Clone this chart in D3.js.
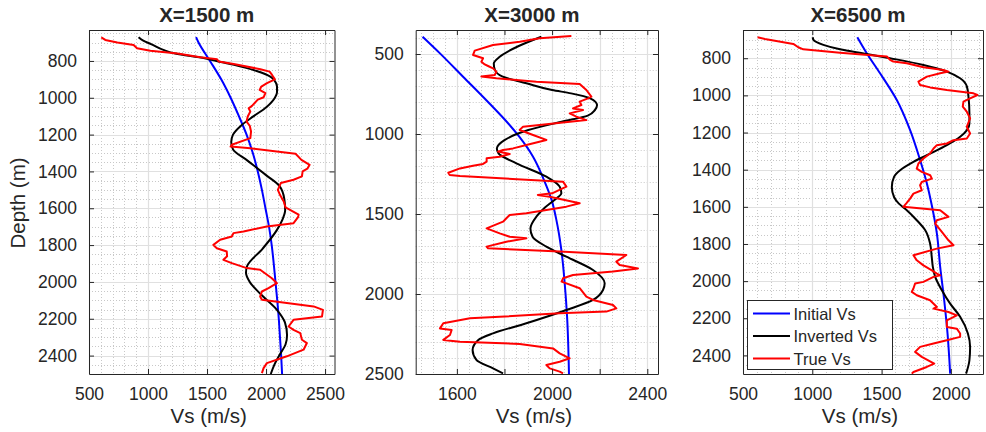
<!DOCTYPE html>
<html><head><meta charset="utf-8">
<script src="https://cdn.jsdelivr.net/npm/d3@7"></script>
<style>
body{margin:0;background:#fff}
svg{display:block}
text{font-family:"Liberation Sans",Arial,Helvetica,sans-serif;fill:#262626}
</style>
</head><body><svg id="c" width="986" height="432"></svg>
<script>
// ---------------- DATA ----------------
const titles = ["X=1500 m", "X=3000 m", "X=6500 m"];
const seriesNames = ["Initial Vs", "Inverted Vs", "True Vs"];
const xLabel = "Vs (m/s)";
const yLabel = "Depth (m)";

const xTicksA = [500, 1000, 1500, 2000, 2500];
const xTicksB = [1600, 1800, 2000, 2200, 2400];
const xTickLabelsB = ["1600", "", "2000", "", "2400"];
const xTicksC = [500, 1000, 1500, 2000];
const yTicksA = [800, 1000, 1200, 1400, 1600, 1800, 2000, 2200, 2400];
const yTicksB = [500, 1000, 1500, 2000, 2500];
const yTicksC = [800, 1000, 1200, 1400, 1600, 1800, 2000, 2200, 2400];

// [depth (m), Vs (m/s)]
const initial1500 = [[671,1407],[700,1428],[800,1525],[900,1620],[1000,1700],[1100,1770],[1200,1835],[1300,1888],[1400,1930],[1500,1965],[1600,1995],[1700,2025],[1800,2048],[1900,2065],[2000,2080],[2100,2095],[2200,2108],[2300,2118],[2400,2128],[2500,2136]];
const inverted1500 = [[671,920],[690,960],[710,1030],[740,1130],[760,1230],[785,1480],[800,1580],[820,1720],[855,1920],[885,2036],[910,2075],[940,2093],[970,2093],[1000,2075],[1050,2005],[1100,1895],[1150,1790],[1200,1720],[1240,1705],[1280,1720],[1340,1840],[1420,2000],[1480,2115],[1550,2155],[1610,2162],[1660,2140],[1720,2090],[1820,1970],[1915,1839],[1950,1830],[2000,1862],[2070,1960],[2150,2090],[2220,2160],[2290,2178],[2340,2165],[2390,2120],[2450,2070],[2500,2040]];
const true1500 = [[672,604],[686,638],[700,740],[713,878],[731,907],[745,1020],[760,1250],[780,1443],[791,1585],[803,1599],[817,1726],[845,1952],[858,2030],[876,2051],[900,2075],[921,2008],[939,1960],[957,1946],[975,1994],[997,1980],[1010,1930],[1044,1881],[1057,1853],[1075,1867],[1102,1845],[1129,1835],[1152,1862],[1183,1873],[1219,1867],[1255,1710],[1265,1700],[1274,1867],[1304,2250],[1337,2300],[1364,2369],[1385,2350],[1400,2310],[1427,2304],[1445,2233],[1463,2125],[1500,2100],[1530,2120],[1563,2150],[1595,2165],[1635,2276],[1650,2270],[1681,2233],[1699,2007],[1726,1809],[1735,1724],[1753,1710],[1771,1611],[1799,1554],[1817,1583],[1835,1667],[1861,1670],[1880,1639],[1898,1710],[1925,1837],[1934,1950],[1980,2049],[2007,2092],[2034,2021],[2052,1965],[2079,1950],[2097,1965],[2133,2403],[2152,2482],[2188,2474],[2206,2233],[2242,2191],[2260,2233],[2278,2290],[2314,2304],[2332,2346],[2368,2318],[2404,2176],[2441,2007],[2468,1979],[2495,1965]];

const initial3000 = [[392,1456],[496,1529],[642,1626],[808,1736],[933,1815],[1017,1862],[1142,1920],[1288,1966],[1412,1998],[1537,2018],[1725,2039],[1933,2053],[2142,2063],[2500,2071]];
const inverted3000 = [[392,1955],[450,1860],[517,1780],[560,1755],[600,1760],[640,1790],[683,1892],[725,2000],[746,2080],[777,2160],[819,2189],[850,2180],[885,2150],[923,2040],[975,1900],[1038,1800],[1090,1768],[1121,1775],[1183,1850],[1267,1976],[1329,2032],[1371,2039],[1412,2010],[1460,1970],[1517,1934],[1590,1909],[1642,1918],[1704,1976],[1767,2060],[1850,2172],[1933,2221],[1975,2214],[2037,2172],[2100,2060],[2183,1892],[2246,1752],[2287,1690],[2350,1666],[2412,1682],[2465,1752],[2496,1794]];
const true3000 = [[388,2081],[402,1948],[423,1864],[444,1752],[479,1675],[506,1668],[527,1710],[548,1703],[565,1717],[575,1731],[590,1752],[610,1766],[631,1759],[641,1703],[652,1766],[673,1934],[687,2116],[725,2144],[767,2165],[777,2151],[798,2116],[819,2123],[840,2088],[850,2130],[871,2074],[892,2102],[913,2144],[954,1878],[975,1864],[1006,1920],[1037,1976],[1069,1892],[1090,1836],[1100,1794],[1110,1773],[1125,1822],[1142,1780],[1152,1725],[1173,1725],[1187,1710],[1198,1668],[1215,1613],[1242,1564],[1256,1570],[1263,1613],[1298,2046],[1329,2060],[1371,2000],[1381,1940],[1392,1990],[1433,2116],[1454,2060],[1496,1892],[1506,1822],[1527,1808],[1548,1794],[1590,1725],[1621,1780],[1642,1822],[1652,1892],[1673,1808],[1704,1725],[1714,1731],[1735,2032],[1756,2312],[1798,2270],[1819,2284],[1840,2361],[1860,2256],[1881,2088],[1902,2046],[1923,2040],[1964,2116],[2017,2144],[2037,2172],[2069,2256],[2090,2270],[2110,2228],[2121,2032],[2142,1780],[2152,1655],[2183,1543],[2215,1529],[2225,1578],[2256,1571],[2287,1543],[2298,1613],[2312,1864],[2340,2004],[2371,2032],[2402,2074],[2423,2032],[2444,1976],[2465,1990],[2485,2032],[2496,2046]];

const initial6500 = [[687,1325],[773,1393],[881,1489],[1025,1610],[1187,1706],[1348,1778],[1474,1827],[1590,1862],[1743,1899],[1923,1923],[2103,1952],[2282,1976],[2498,1995]];
const inverted6500 = [[687,1003],[701,1008],[728,1080],[752,1200],[777,1393],[800,1561],[836,1802],[872,1971],[908,2067],[953,2116],[1007,2127],[1097,2134],[1151,2134],[1187,2116],[1223,2067],[1268,1971],[1322,1827],[1358,1730],[1403,1634],[1439,1590],[1493,1574],[1547,1590],[1583,1625],[1618,1682],[1672,1754],[1725,1814],[1797,1850],[1869,1862],[1923,1870],[1977,1887],[2049,1935],[2121,1995],[2192,2067],[2282,2123],[2354,2139],[2426,2134],[2498,2110]];
const true6500 = [[687,605],[696,658],[723,863],[741,899],[752,935],[770,1200],[791,1538],[809,1561],[818,1585],[827,1682],[849,1802],[863,1947],[872,1983],[881,1923],[899,1827],[926,1766],[944,1778],[957,1851],[971,1971],[989,2163],[998,2192],[1016,2139],[1034,2091],[1061,2086],[1088,2115],[1124,2139],[1169,2115],[1205,2139],[1232,2115],[1241,2019],[1259,1971],[1268,1899],[1286,1875],[1313,1850],[1340,1802],[1367,1766],[1394,1754],[1412,1790],[1430,1851],[1448,1863],[1466,1790],[1484,1778],[1511,1790],[1529,1730],[1556,1706],[1580,1680],[1600,1657],[1618,1923],[1654,1983],[1672,1899],[1690,1887],[1735,1935],[1780,1983],[1807,2019],[1825,1899],[1861,1730],[1888,1754],[1915,1802],[1942,1863],[1960,1899],[1969,1923],[1977,1875],[2004,1802],[2013,1742],[2040,1730],[2058,1718],[2076,1754],[2103,1850],[2139,1899],[2148,1875],[2166,1983],[2184,2043],[2211,1971],[2247,1971],[2256,2043],[2282,2067],[2300,2067],[2318,1971],[2336,1875],[2354,1778],[2381,1742],[2408,1790],[2444,1880],[2462,1826],[2489,1730],[2498,1718]];

// ---------------- LAYOUT ----------------
const colors = ["#0000ff", "#000000", "#ff0000"];
const panels = [
  {box:[89,334.5,30,374], xd:[500,2580], yd:[632,2500], xt:xTicksA, xl:null, yt:yTicksA,
   xMinor:d3.range(600,2580,100), yMinor:d3.range(650,2500,50), series:[initial1500,inverted1500,true1500]},
  {box:[415.7,658,30,374], xd:[1427,2445], yd:[350,2500], xt:xTicksB, xl:xTickLabelsB, yt:yTicksB,
   xMinor:d3.range(1450,2445,50), yMinor:d3.range(400,2500,100), series:[initial3000,inverted3000,true3000]},
  {box:[743,983,30,374], xd:[500,2232], yd:[648,2500], xt:xTicksC, xl:null, yt:yTicksC,
   xMinor:d3.range(600,2232,100), yMinor:d3.range(650,2500,50), series:[initial6500,inverted6500,true6500]}
];

const svg = d3.select("#c");
const defs = svg.append("defs");

panels.forEach((p, i) => {
  const [l, r, t, b] = p.box;
  const x = d3.scaleLinear().domain(p.xd).range([l, r]);
  const y = d3.scaleLinear().domain(p.yd).range([t, b]);
  const g = svg.append("g");

  // minor grid
  const isMajX = v => p.xt.includes(v), isMajY = v => p.yt.includes(v);
  g.append("g").selectAll("line").data(p.xMinor.filter(v => !isMajX(v))).join("line")
    .attr("x1", d => Math.round(x(d)) + 0.5).attr("x2", d => Math.round(x(d)) + 0.5)
    .attr("y1", t).attr("y2", b)
    .attr("stroke", "#c8c8c8").attr("stroke-width", 1).attr("stroke-dasharray", "1,2");
  g.append("g").selectAll("line").data(p.yMinor.filter(v => !isMajY(v))).join("line")
    .attr("y1", d => Math.round(y(d)) + 0.5).attr("y2", d => Math.round(y(d)) + 0.5)
    .attr("x1", l).attr("x2", r)
    .attr("stroke", "#c8c8c8").attr("stroke-width", 1).attr("stroke-dasharray", "1,2");
  // major grid
  g.append("g").selectAll("line").data(p.xt).join("line")
    .attr("x1", d => Math.round(x(d)) + 0.5).attr("x2", d => Math.round(x(d)) + 0.5)
    .attr("y1", t).attr("y2", b).attr("stroke", "#e0e0e0").attr("stroke-width", 1.2);
  g.append("g").selectAll("line").data(p.yt).join("line")
    .attr("y1", d => Math.round(y(d)) + 0.5).attr("y2", d => Math.round(y(d)) + 0.5)
    .attr("x1", l).attr("x2", r).attr("stroke", "#e0e0e0").attr("stroke-width", 1.2);

  // clip
  defs.append("clipPath").attr("id", "clip" + i)
    .append("rect").attr("x", l).attr("y", t).attr("width", r - l).attr("height", b - t);

  const lineSmooth = d3.line().x(d => x(d[1])).y(d => y(d[0])).curve(d3.curveMonotoneY);
  const lineRaw = d3.line().x(d => x(d[1])).y(d => y(d[0]));
  const lg = g.append("g").attr("clip-path", `url(#clip${i})`);
  p.series.forEach((s, k) => {
    lg.append("path").datum(s)
      .attr("d", k === 2 ? lineRaw : lineSmooth)
      .attr("fill", "none").attr("stroke", colors[k]).attr("stroke-width", 2)
      .attr("stroke-linejoin", "round");
  });

  // axes
  const fmt = p.xl ? ((d, j) => p.xl[j]) : d3.format("d");
  const axB = g.append("g").attr("transform", `translate(0,${b})`)
    .call(d3.axisBottom(x).tickValues(p.xt).tickFormat(fmt).tickSizeInner(-5).tickSizeOuter(0).tickPadding(13.5));
  const axT = g.append("g").attr("transform", `translate(0,${t})`)
    .call(d3.axisTop(x).tickValues(p.xt).tickFormat("").tickSizeInner(-5).tickSizeOuter(0));
  const axL = g.append("g").attr("transform", `translate(${l},0)`)
    .call(d3.axisLeft(y).tickValues(p.yt).tickFormat(d3.format("d")).tickSizeInner(-5).tickSizeOuter(0).tickPadding(12));
  const axR = g.append("g").attr("transform", `translate(${r},0)`)
    .call(d3.axisRight(y).tickValues(p.yt).tickFormat("").tickSizeInner(-5).tickSizeOuter(0));
  [axB, axT, axL, axR].forEach(a => {
    a.attr("font-family", null).attr("font-size", null);
    a.selectAll("path.domain").attr("stroke", "#262626").attr("stroke-width", 1);
    a.selectAll(".tick line").attr("stroke", "#262626");
    a.selectAll("text").style("font-size", "17.5px").attr("fill", "#262626");
  });

  const cx = (l + r) / 2;
  g.append("text").attr("x", cx - 5).attr("y", 22).attr("text-anchor", "middle")
    .style("font-size", "20.5px").style("font-weight", "bold").attr("fill", "#000").text(titles[i]);
  g.append("text").attr("x", cx - 3).attr("y", 423).attr("text-anchor", "middle")
    .style("font-size", "20.5px").text(xLabel);
  if (i === 0) {
    g.append("text").attr("transform", `translate(25,${(t + b) / 2 + 1}) rotate(-90)`)
      .attr("text-anchor", "middle").style("font-size", "20.5px").text(yLabel);
  }

  if (i === 2) {
    const lgG = g.append("g");
    lgG.append("rect").attr("x", 747.5).attr("y", 300.5).attr("width", 145).attr("height", 69)
      .attr("fill", "#fff").attr("stroke", "#262626").attr("stroke-width", 1);
    seriesNames.forEach((n, k) => {
      const yy = 313.5 + k * 22.5;
      lgG.append("line").attr("x1", 753).attr("x2", 790).attr("y1", yy).attr("y2", yy)
        .attr("stroke", colors[k]).attr("stroke-width", 2);
      lgG.append("text").attr("x", 793.5).attr("y", yy + 6).style("font-size", "16.5px")
        .attr("fill", "#000").text(n);
    });
  }
});
</script>
</body></html>
